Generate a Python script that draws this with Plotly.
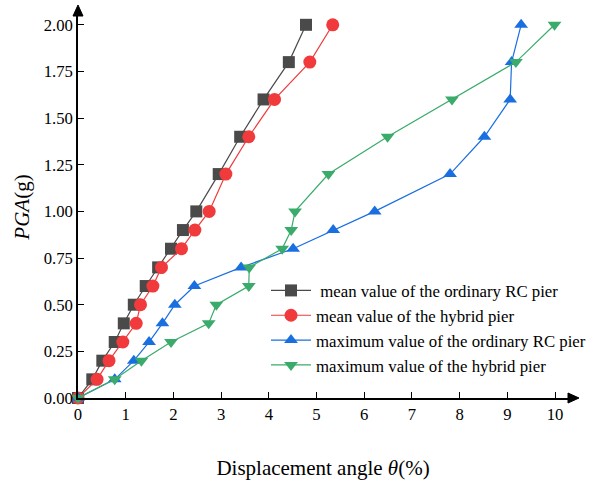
import plotly.graph_objects as go

pga = [0, 0.1, 0.2, 0.3, 0.4, 0.5, 0.6, 0.7, 0.8, 0.9, 1.0, 1.2, 1.4, 1.6, 1.8, 2.0]
mean_rc = [0, 0.30, 0.51, 0.77, 0.96, 1.17, 1.42, 1.68, 1.95, 2.20, 2.48, 2.95, 3.40, 3.89, 4.42, 4.78]
mean_hybrid = [0, 0.40, 0.65, 0.94, 1.22, 1.31, 1.57, 1.75, 2.17, 2.45, 2.75, 3.10, 3.58, 4.12, 4.86, 5.34]
max_rc = [0, 0.77, 1.17, 1.49, 1.77, 2.03, 2.44, 3.42, 4.51, 5.35, 6.22, 7.80, 8.52, 9.06, 9.09, 9.29]
max_hybrid = [0, 0.77, 1.33, 1.95, 2.74, 2.90, 3.58, 3.59, 4.28, 4.47, 4.55, 5.25, 6.49, 7.84, 9.18, 9.99]

names = [" mean value of the ordinary RC pier", "mean value of the hybrid pier",
         "maximum value of the ordinary RC pier", "maximum value of the hybrid pier"]
series = [mean_rc, mean_hybrid, max_rc, max_hybrid]
colors = ["#4a4a4a", "#f03a3c", "#1a6fe0", "#3aab6a"]
symbols = ["square", "circle", "triangle-up", "triangle-down"]

x_ticks = list(range(0, 11))
y_ticks = [0, 0.25, 0.5, 0.75, 1.0, 1.25, 1.5, 1.75, 2.0]

fig = go.Figure()
for i, (nm, xs, c, s) in enumerate(zip(names, series, colors, symbols)):
    fig.add_trace(go.Scatter(
        x=xs, y=pga, name=nm, mode="lines+markers",
        line=dict(color=c, width=1.2),
        marker=dict(symbol=s, size=12 if s != "circle" else 13, color=c),
        cliponaxis=False, legendgroup=str(i)))

L, R, T, B = 78, 34, 16, 84
W, H = 602, 482
pw, ph = W - L - R, H - T - B

fig.update_layout(
    width=W, height=H,
    margin=dict(l=L, r=R, t=T, b=B, autoexpand=False),
    plot_bgcolor="white", paper_bgcolor="white",
    font=dict(family="Liberation Serif, Times New Roman, serif", color="black", size=16),
    showlegend=True,
    legend=dict(x=(266 - L) / pw, y=(398 - 273) / ph, xanchor="left", yanchor="top",
                bgcolor="rgba(0,0,0,0)", font=dict(size=16.8), itemwidth=40,
                tracegroupgap=0, traceorder="grouped"),
    xaxis=dict(range=[0, pw / 47.7], tickvals=x_ticks, ticktext=[str(v) for v in x_ticks],
               showline=True, linecolor="black", linewidth=1.5,
               ticks="inside", ticklen=6, tickcolor="black", tickwidth=1,
               showgrid=False, zeroline=False, automargin=False,
               title=dict(text="Displacement angle <i>θ</i>(%)", font=dict(size=21), standoff=38),
               tickfont=dict(size=16.7)),
    yaxis=dict(range=[0, ph / 186.6], tickvals=y_ticks, ticktext=[f"{v:.2f}" for v in y_ticks],
               showline=True, linecolor="black", linewidth=1.5,
               ticks="inside", ticklen=6, tickcolor="black", tickwidth=1,
               showgrid=False, zeroline=False, automargin=False,
               title=dict(text="<i>PGA</i>(g)", font=dict(size=21), standoff=8),
               tickfont=dict(size=16.7)),
)

# axis arrows
ax_len = 11 / pw
ay_half = 5 / ph
fig.add_shape(type="path", xref="paper", yref="paper",
              path=f"M 1 {ay_half} L {1 + ax_len} 0 L 1 {-ay_half} Z",
              fillcolor="black", line=dict(color="black", width=1))
ax_half = 5 / pw
ay_len = 11 / ph
fig.add_shape(type="path", xref="paper", yref="paper",
              path=f"M {-ax_half} 1 L 0 {1 + ay_len} L {ax_half} 1 Z",
              fillcolor="black", line=dict(color="black", width=1))

fig.write_html("out.html")
